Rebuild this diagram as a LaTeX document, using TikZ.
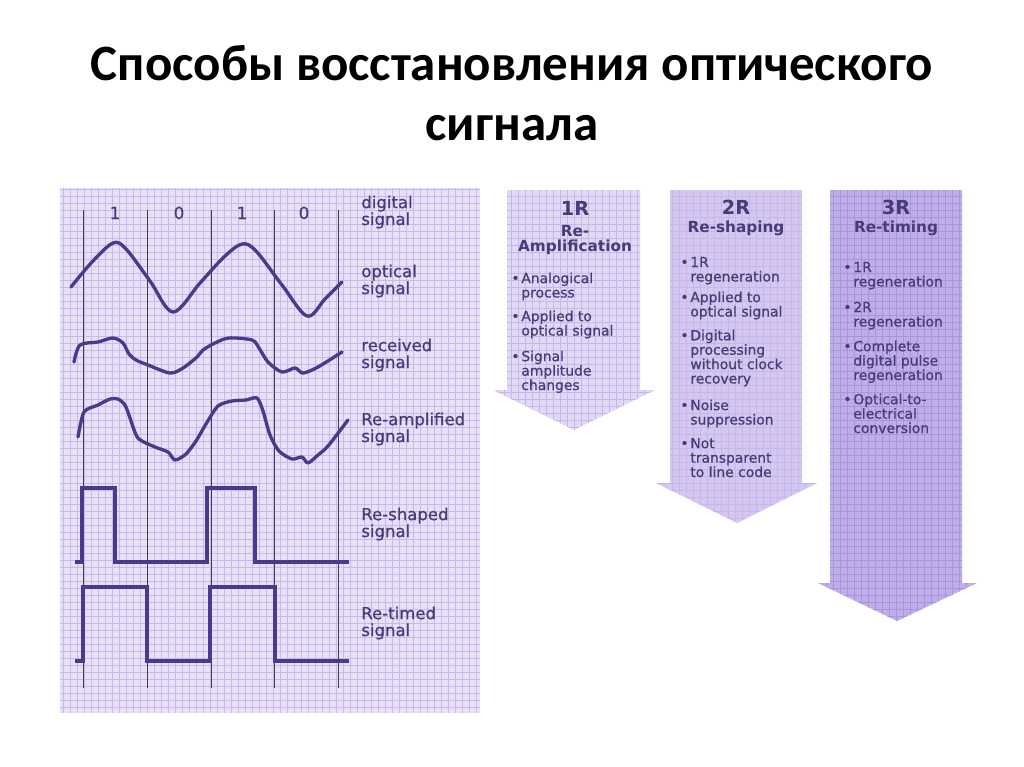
\documentclass[tikz,border=0pt]{standalone}
\usepackage{fontspec}
\setmainfont{DejaVu Sans}
\newfontfamily\titlefont{Carlito}
\newfontfamily\medfont{DejaVu Sans}[FakeBold=0.6]
\definecolor{panelbg}{HTML}{E8E0F6}
\definecolor{gridc}{HTML}{C9B9EA}
\definecolor{wave}{HTML}{4A3A8A}
\definecolor{ink}{HTML}{473B78}
\definecolor{arrA}{HTML}{E0D8F4}
\definecolor{arrB}{HTML}{D4C7F1}
\definecolor{arrC}{HTML}{BFADE7}
\definecolor{gridA}{HTML}{C6B7E8}
\definecolor{gridC}{HTML}{A894DC}
\newcommand{\bul}{\llap{•\hspace{1pt}}}

\begin{document}
\begin{tikzpicture}[x=0.02cm, y=-0.02cm,
  lbl/.style={anchor=base west, align=left, inner sep=0pt, text=ink, font=\medfont\fontsize{9.4}{9.6}\selectfont},
  digit/.style={anchor=base, text=ink, font=\medfont\fontsize{9.5}{11}\selectfont},
  sig/.style={wave, line width=1.9pt, line join=round, line cap=round},
  sq/.style={wave, line width=2.4pt, line join=miter},
  tick/.style={draw=black!75, line width=0.5pt},
  rnum/.style={anchor=base, inner sep=0pt, text=ink, font=\bfseries\fontsize{11}{13}\selectfont},
  rname/.style={anchor=base, align=center, inner sep=0pt, text=ink, font=\bfseries\fontsize{8.7}{8}\selectfont},
  item/.style={anchor=base west, align=left, inner sep=0pt, text=ink, font=\medfont\fontsize{7.9}{8.2}\selectfont}]
\useasboundingbox (0,0) rectangle (1024,767);

% title (base = last line)
\node[anchor=base, align=center, inner sep=0pt, font=\titlefont\bfseries\fontsize{29}{33.6}\selectfont] (title) at (512,140) {Способы восстановления оптического\\сигнала};

% left panel with the waveforms
\fill[panelbg] (60,188) rectangle (480,713);
\draw[gridc, line width=0.3pt, step=0.14cm] (60,713) grid (480,188);
\foreach \x in {83,147,211,274,338}
  \draw[tick] (\x,210) -- (\x,688);
\node[digit] (d1) at (115,219) {1};
\node[digit] (d2) at (179,219) {0};
\node[digit] (d3) at (242,219) {1};
\node[digit] (d4) at (304,219) {0};

\draw[sig] plot[smooth, tension=0.55] coordinates {(71,287) (92,262) (113,243) (126,249) (150,281) (173,312) (200,283) (224,257) (242,244) (256,251) (282,285) (307,316) (325,299) (342,282)};
\draw[sig] plot[smooth, tension=0.5] coordinates {(74,362) (80,345) (98,342) (113,338) (123,343) (129,354) (136,360) (148,365) (170,373) (183,368) (197,357) (203,350) (215,343) (229,338) (252,340) (259,348) (268,362) (282,372) (295,368) (303,373) (318,367) (342,352)};
\draw[sig] plot[smooth, tension=0.45] coordinates {(78,437) (84,412) (98,405) (110,399) (118,399) (125,405) (130,418) (138,438) (155,447) (168,452) (175,460) (186,454) (196,441) (206,424) (218,406) (232,401) (246,400) (257,398) (263,411) (270,435) (279,451) (292,459) (302,457) (308,463) (318,455) (328,446) (348,420)};
\draw[sq] (75,562) -- (82,562) -- (82,488) -- (115,488) -- (115,562) -- (207,562) -- (207,488) -- (255,488) -- (255,562) -- (349,562);
\draw[sq] (75,661) -- (83,661) -- (83,587) -- (147,587) -- (147,661) -- (210,661) -- (210,587) -- (275,587) -- (275,661) -- (349,661);

\node[lbl] (ldig) at (361,225) {digital\\signal};
\node[lbl] (lopt) at (361,294) {optical\\signal};
\node[lbl] (lrec) at (361,368) {received\\signal};
\node[lbl] (lamp) at (361,442) {Re-amplified\\signal};
\node[lbl] (lshp) at (361,537) {Re-shaped\\signal};
\node[lbl] (ltim) at (361,636) {Re-timed\\signal};

% 1R arrow
\begin{scope}
  \clip (507,190) -- (640,190) -- (640,390) -- (655,390) -- (574,430) -- (493,390) -- (507,390) -- cycle;
  \fill[arrA] (480,180) rectangle (1000,640);
  \draw[gridA, line width=0.3pt, step=0.14cm] (480,640) grid (1000,180);
\end{scope}
\node[rnum] (r1) at (575,215) {1R};
\node[rname] (r1t) at (575,251) {Re-\\Amplification};
\node[item] (i1a) at (521,297.5) {\bul Analogical\\process};
\node[item] (i1b) at (521,335.5) {\bul Applied to\\optical signal};
\node[item] (i1c) at (521,390) {\bul Signal\\amplitude\\changes};

% 2R arrow
\begin{scope}
  \clip (670,190) -- (802,190) -- (802,483) -- (817,483) -- (737,523) -- (656,483) -- (670,483) -- cycle;
  \fill[arrB] (480,180) rectangle (1000,640);
  \draw[gridA, line width=0.3pt, step=0.14cm] (480,640) grid (1000,180);
\end{scope}
\node[rnum] (r2) at (736,214) {2R};
\node[rname] (r2t) at (736,232) {Re-shaping};
\node[item] (i2a) at (690,281.5) {\bul 1R\\regeneration};
\node[item] (i2b) at (690,316.5) {\bul Applied to\\optical signal};
\node[item] (i2c) at (690,383.5) {\bul Digital\\processing\\without clock\\recovery};
\node[item] (i2d) at (690,424.5) {\bul Noise\\suppression};
\node[item] (i2e) at (690,477) {\bul Not\\transparent\\to line code};

% 3R arrow
\begin{scope}
  \clip (830,190) -- (962,190) -- (962,583) -- (977,583) -- (897,621) -- (818,583) -- (830,583) -- cycle;
  \fill[arrC] (480,180) rectangle (1000,640);
  \draw[gridC, line width=0.3pt, step=0.14cm] (480,640) grid (1000,180);
\end{scope}
\node[rnum] (r3) at (896,214) {3R};
\node[rname] (r3t) at (896,232) {Re-timing};
\node[item] (i3a) at (853,286.5) {\bul 1R\\regeneration};
\node[item] (i3b) at (853,326.5) {\bul 2R\\regeneration};
\node[item] (i3c) at (853,380) {\bul Complete\\digital pulse\\regeneration};
\node[item] (i3d) at (853,433) {\bul Optical-to-\\electrical\\conversion};
\end{tikzpicture}
\end{document}
